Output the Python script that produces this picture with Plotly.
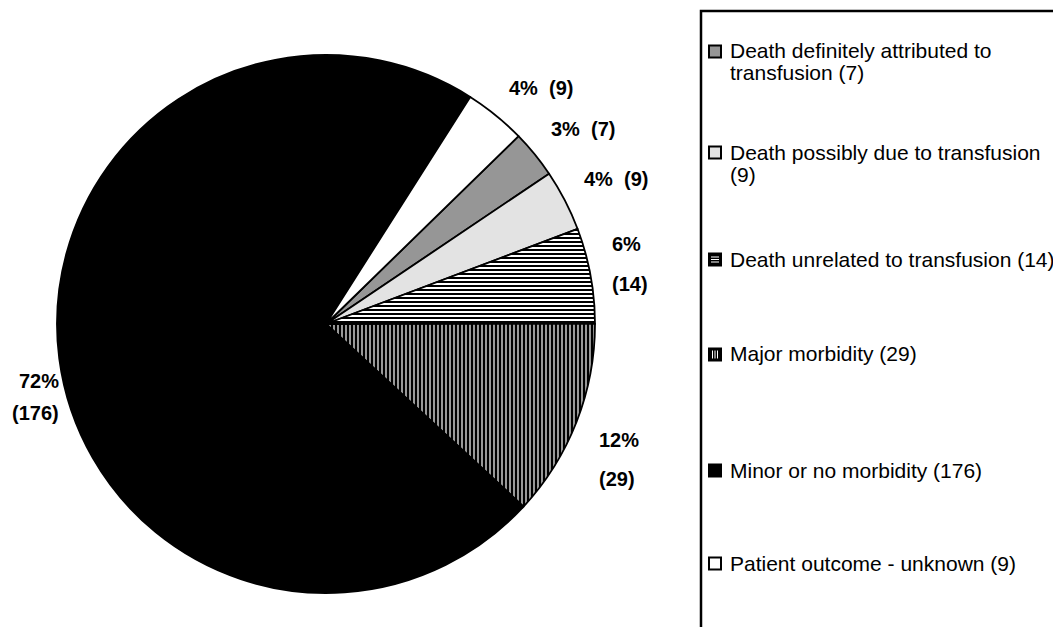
import math
import plotly.graph_objects as go

# ---------------- data ----------------
categories = [
    "Death definitely attributed to transfusion",
    "Death possibly due to transfusion",
    "Death unrelated to transfusion",
    "Major morbidity",
    "Minor or no morbidity",
    "Patient outcome - unknown",
]
counts = [7, 9, 14, 29, 176, 9]

# ---------------- style ----------------
W, H = 1053, 627
CX, CY, R = 326, 324, 269          # pie centre / radius in px
FIRST_ANGLE = 45.7                 # first slice starts here (clockwise from 12 o'clock)
FONT = "Arial, Liberation Sans, sans-serif"

fills = ["#969696", "#E3E3E3", "#FFFFFF", "#000000", "#000000", "#FFFFFF"]
pat_shape = ["", "", "-", "|", "", ""]
pat_fg = ["#000000", "#000000", "#000000", "#FFFFFF", "#000000", "#000000"]
pat_size = [8, 8, 4, 4, 8, 8]
pat_solid = [0.5, 0.5, 0.5, 0.3, 0.5, 0.5]

label_f = [1.07, 1.07, 1.08, 1.08, 1.02, 1.07]
label_nudge = [0, 0, 0, -1.5, -8, 0]
label_nudge[2] = -1.5
label_nudge[3] = 0
label_wrap = [False, False, True, True, True, False]
label_gap = [0, 0, 40, 39, 32, 0]
LABEL_SIZE = 20
LABEL_LH = 20

legend_wrap_words = [4, 5, None, None, None, None]
legend_y = [51, 152, 259, 354, 470, 563]
LEG_LINE = 22
LEG_TEXT_X = 728
LEG_MK_X0, LEG_MK = 709, 12
LEG_SIZE = 21


def px(x):
    return x / W


def py(y):
    return 1 - y / H


total = sum(counts)
pcts = [round(100 * c / total) for c in counts]

fig = go.Figure()
fig.add_trace(go.Pie(
    labels=categories,
    values=counts,
    sort=False,
    direction="clockwise",
    rotation=FIRST_ANGLE,
    textinfo="none",
    hoverinfo="label+value+percent",
    showlegend=False,
    domain=dict(x=[px(CX - R), px(CX + R)], y=[py(CY + R), py(CY - R)]),
    marker=dict(
        colors=fills,
        line=dict(color="#000000", width=1.8),
        pattern=dict(shape=pat_shape, fgcolor=pat_fg, bgcolor=fills,
                     size=pat_size, solidity=pat_solid, fillmode="replace"),
    ),
))

annotations = []
shapes = []

# slice labels
start = FIRST_ANGLE
for i, c in enumerate(counts):
    sweep = 360 * c / total
    mid = math.radians(start + sweep / 2 + label_nudge[i])
    start += sweep
    s, co = math.sin(mid), math.cos(mid)
    d = R * label_f[i]
    x = CX + d * s
    y = CY - d * co
    xa = "left" if s > 0.1 else ("right" if s < -0.1 else "center")
    ya = "bottom" if co > 0.35 else ("top" if co < -0.35 else "middle")
    pct_txt = f"<b>{pcts[i]}%</b>"
    cnt_txt = f"<b>({c})</b>"
    if label_wrap[i]:
        g = label_gap[i]
        if ya == "middle":
            bc = y
        elif ya == "top":
            bc = y + g / 2 + LABEL_LH / 2
        else:
            bc = y - g / 2 - LABEL_LH / 2
        for txt, yy in ((pct_txt, bc - g / 2), (cnt_txt, bc + g / 2)):
            annotations.append(dict(x=px(x), y=py(yy), xref="paper", yref="paper",
                                    text=txt, showarrow=False, xanchor=xa, yanchor="middle",
                                    align=xa if xa != "center" else "center",
                                    font=dict(family=FONT, size=LABEL_SIZE, color="#000000")))
    else:
        annotations.append(dict(x=px(x), y=py(y), xref="paper", yref="paper",
                                text=f"<b>{pcts[i]}%\u00a0\u00a0({c})</b>", showarrow=False,
                                xanchor=xa, yanchor=ya,
                                font=dict(family=FONT, size=LABEL_SIZE, color="#000000")))

# legend box
shapes.append(dict(type="rect", xref="paper", yref="paper",
                   x0=px(701), x1=px(W + 20), y0=py(H + 20), y1=py(11),
                   line=dict(color="#000000", width=2.5), fillcolor="rgba(0,0,0,0)"))

# legend items
for i, (cat, c) in enumerate(zip(categories, counts)):
    full = f"{cat} ({c})"
    words = full.split(" ")
    k = legend_wrap_words[i]
    lines = [full] if k is None else [" ".join(words[:k]), " ".join(words[k:])]
    y0 = legend_y[i]
    for j, ln in enumerate(lines):
        annotations.append(dict(x=px(LEG_TEXT_X), y=py(y0 + j * LEG_LINE), xref="paper", yref="paper",
                                text=ln, showarrow=False, xanchor="left", yanchor="middle",
                                font=dict(family=FONT, size=LEG_SIZE, color="#000000")))
    mx0, mx1 = LEG_MK_X0, LEG_MK_X0 + LEG_MK
    my0, my1 = y0 - LEG_MK / 2 + 0.5, y0 + LEG_MK / 2 + 0.5
    mk_fill = "#000000" if pat_shape[i] else fills[i]
    shapes.append(dict(type="rect", xref="paper", yref="paper",
                       x0=px(mx0), x1=px(mx1), y0=py(my1), y1=py(my0),
                       line=dict(color="#000000", width=2), fillcolor=mk_fill))
    if pat_shape[i] == "-":
        for off in (3.5, 6, 8.5):
            shapes.append(dict(type="line", xref="paper", yref="paper",
                               x0=px(mx0 + 2), x1=px(mx1 - 2), y0=py(my0 + off), y1=py(my0 + off),
                               line=dict(color="#FFFFFF", width=1)))
    elif pat_shape[i] == "|":
        for off in (3.5, 6, 8.5):
            shapes.append(dict(type="line", xref="paper", yref="paper",
                               x0=px(mx0 + off), x1=px(mx0 + off), y0=py(my0 + 2), y1=py(my1 - 2),
                               line=dict(color="#FFFFFF", width=1)))

fig.update_layout(
    width=W, height=H,
    margin=dict(l=0, r=0, t=0, b=0),
    paper_bgcolor="#FFFFFF",
    plot_bgcolor="#FFFFFF",
    showlegend=False,
    annotations=annotations,
    shapes=shapes,
    font=dict(family=FONT, color="#000000"),
)

fig.write_html("out.html")
